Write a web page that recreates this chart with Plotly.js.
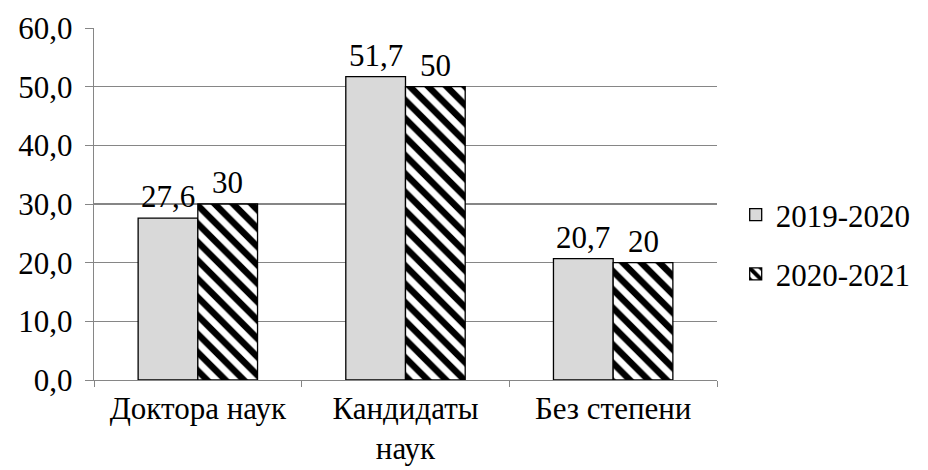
<!DOCTYPE html>
<html><head><meta charset="utf-8">
<script src="https://cdn.plot.ly/plotly-3.0.1.min.js"></script>
</head><body style="margin:0;background:#fff;font-family:'Liberation Serif';font-size:31px">
<div id="warm" style="position:absolute;left:100px;top:100px;z-index:-1;color:#fff">Доктора наук 2019-2020 27,6</div>
<div id="c" style="position:relative;width:928px;height:470px"></div>
<script>
const categories = ["Доктора наук", "Кандидаты<br>наук", "Без степени"];
const seriesNames = ["2019-2020", "2020-2021"];
const values2019 = [27.6, 51.7, 20.7];
const values2020 = [30, 50, 20];
const yTicks = [0, 10, 20, 30, 40, 50, 60];

function mkFont() { return {family: "Liberation Serif", size: 31, color: "#000000"}; }
const fmt = v => String(v).replace(".", ",");
const traces = [
  {type: "bar", name: seriesNames[0], x: categories, y: values2019, legendgroup: "a",
   marker: {color: "#d9d9d9", line: {color: "#000", width: 1.3}}},
  {type: "bar", name: seriesNames[1], x: categories, y: values2020, legendgroup: "b",
   marker: {color: "#fff", line: {color: "#000", width: 1.3},
            pattern: {shape: "\\", fgcolor: "#000", bgcolor: "#fff", size: 13, solidity: 0.5}}}
];
const annotations = [];
categories.forEach((c, i) => {
  annotations.push({x: c, y: values2019[i], text: fmt(values2019[i]), xshift: -30, yshift: 2,
    yanchor: "bottom", showarrow: false, font: mkFont()});
  annotations.push({x: c, y: values2020[i], text: fmt(values2020[i]), xshift: 30, yshift: 2,
    yanchor: "bottom", showarrow: false, font: mkFont()});
});
const layout = {
  width: 928, height: 470,
  margin: {l: 94, r: 206, t: 28, b: 90},
  paper_bgcolor: "#fff", plot_bgcolor: "#fff",
  separators: ", ",
  barmode: "group", bargap: 0.425, bargroupgap: 0,
  showlegend: true,
  annotations: annotations,
  legend: {x: 1.03, y: 0.385, yanchor: "middle", xanchor: "left", font: mkFont(),
           traceorder: "grouped", tracegroupgap: 16, itemwidth: 30},
  xaxis: {showline: true, linecolor: "#868686", linewidth: 1.3, ticks: "outside", tickson: "boundaries",
          ticklen: 6, tickcolor: "#868686", tickfont: mkFont(), showgrid: false},
  yaxis: {range: [0, 60], tickvals: yTicks, tickformat: ".1f", showline: true, linecolor: "#868686", linewidth: 1.3,
          ticks: "outside", ticklen: 8, tickcolor: "#868686", showgrid: true, gridcolor: "#868686", gridwidth: 1.3,
          tickfont: mkFont(), zeroline: false, ticklabelstandoff: 6}
};
Plotly.newPlot("c", traces, layout, {staticPlot: true});
</script></body></html>
